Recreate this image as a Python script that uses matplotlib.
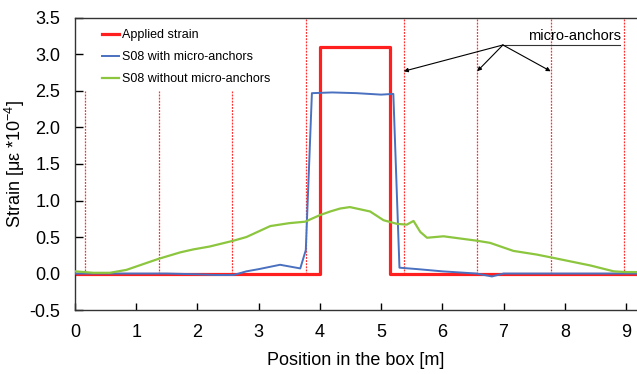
import matplotlib
matplotlib.use("Agg")
from matplotlib import pyplot as plt

plt.rcParams['font.family'] = ['Liberation Sans', 'DejaVu Sans']
plt.rcParams['mathtext.default'] = 'regular'

# micro-anchor positions [m] and top of their dotted marker lines
ANCHOR_X = [0.17, 1.37, 2.57, 3.77, 5.37, 6.57, 7.77, 8.97]
ANCHOR_TOP = [2.5, 2.5, 2.5, 3.5, 3.5, 3.5, 3.5, 3.5]

APPLIED_X = [0, 4.0, 4.0, 5.15, 5.15, 9.2]
APPLIED_Y = [0, 0, 3.1, 3.1, 0, 0]

WITH_X = [0, 0.5, 1.0, 1.5, 2.0, 2.3, 2.59, 2.8, 3.0, 3.35, 3.68, 3.77, 3.87,
          4.2, 4.6, 5.0, 5.2, 5.30, 5.6, 6.0, 6.56, 6.81, 7.0, 8.0, 9.2]
WITH_Y = [0.0, 0.0, 0.0, 0.0, -0.01, -0.02, -0.02, 0.03, 0.06, 0.12, 0.07, 0.32, 2.47,
          2.48, 2.47, 2.45, 2.46, 0.08, 0.06, 0.03, 0.0, -0.04, 0.0, 0.0, 0.0]

WITHOUT_X = [0, 0.3, 0.57, 0.84, 1.36, 1.72, 1.93, 2.2, 2.59, 2.8, 3.19, 3.5, 3.76,
             4.0, 4.17, 4.33, 4.49, 4.82, 5.04, 5.26, 5.42, 5.53, 5.64, 5.75, 6.02,
             6.56, 6.78, 7.16, 7.54, 7.78, 8.42, 8.80, 9.0, 9.2]
WITHOUT_Y = [0.03, 0.01, 0.01, 0.05, 0.2, 0.29, 0.33, 0.37, 0.45, 0.50, 0.65, 0.69, 0.71,
             0.80, 0.85, 0.89, 0.91, 0.85, 0.73, 0.68, 0.67, 0.72, 0.57, 0.49, 0.51,
             0.45, 0.42, 0.31, 0.26, 0.22, 0.11, 0.03, 0.02, 0.02]

fig = plt.figure(figsize=(6.37, 3.74), dpi=100)
ax = fig.add_axes([0.1177, 0.171, 0.8823, 0.781])

for xa, top in zip(ANCHOR_X, ANCHOR_TOP):
	ax.plot([xa, xa], [0, top], color='#ff3030', lw=0.9, linestyle=(0, (1.5, 1)), zorder=1)

ax.plot(WITH_X, WITH_Y, color='#4a70c0', lw=1.4, label='S08 with micro-anchors', zorder=3)
ax.plot(WITHOUT_X, WITHOUT_Y, color='#8cc63e', lw=1.6, label='S08 without micro-anchors', zorder=3)
ax.plot(APPLIED_X, APPLIED_Y, color='#ff1f1f', lw=2.3, label='Applied strain', zorder=2)

h, l = ax.get_legend_handles_labels()
order = [2, 0, 1]
ax.legend([h[i] for i in order], [l[i] for i in order], loc='upper left',
          bbox_to_anchor=(0.028, 1.0), frameon=False, fontsize=9,
          handlelength=1.4, handletextpad=0.2, labelspacing=0.8)

# annotation for micro-anchors
ax.text(7.40, 3.16, 'micro-anchors', fontsize=10.5, ha='left', va='bottom')
ax.plot([6.99, 8.9], [3.13, 3.13], color='#333333', lw=0.8)
for xa in ANCHOR_X[4:7]:
	ax.annotate('', xy=(xa, 2.77), xytext=(6.99, 3.13),
	            arrowprops=dict(arrowstyle='-|>', color='black', lw=0.8,
	                            mutation_scale=6, shrinkA=0, shrinkB=0))

ax.set_xlim(0, 9.18)
ax.set_ylim(-0.5, 3.5)
ax.set_xticks(range(10))
ax.set_yticks([-0.5, 0, 0.5, 1.0, 1.5, 2.0, 2.5, 3.0, 3.5])
ax.set_yticklabels(['-0.5', '0.0', '0.5', '1.0', '1.5', '2.0', '2.5', '3.0', '3.5'])
ax.tick_params(direction='in', labelsize=13, width=1)
ax.tick_params(axis='x', pad=10, length=5)
ax.tick_params(axis='y', pad=10.5, length=6)
ax.spines['right'].set_visible(False)
for s in ['left', 'bottom', 'top']:
	ax.spines[s].set_linewidth(1.0)
	ax.spines[s].set_color('#333333')

ax.set_xlabel('Position in the box [m]', fontsize=13, labelpad=8)
ax.set_ylabel('Strain [με *10$^{-4}$]', fontsize=13, labelpad=2)

fig.savefig('out.png', dpi=100)
